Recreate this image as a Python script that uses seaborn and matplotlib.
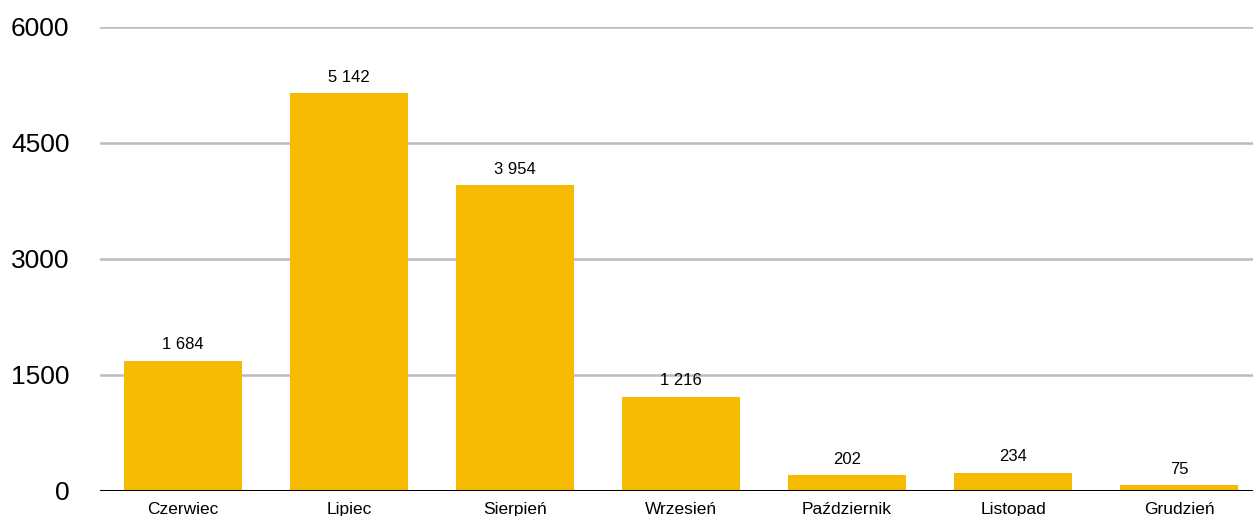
import matplotlib
matplotlib.use("Agg")
import matplotlib.pyplot as plt
import seaborn as sns
import pandas as pd

months = ["Czerwiec", "Lipiec", "Sierpień", "Wrzesień", "Październik", "Listopad", "Grudzień"]
counts = [1684, 5142, 3954, 1216, 202, 234, 75]
yticks = [0, 1500, 3000, 4500, 6000]

df = pd.DataFrame({"miesiac": months, "liczba": counts})

sns.set_style("white")
plt.rcParams["font.family"] = ["Liberation Sans", "DejaVu Sans"]
plt.rcParams["text.color"] = "black"
plt.rcParams["xtick.color"] = "black"
plt.rcParams["ytick.color"] = "black"

fig = plt.figure(figsize=(12.53, 5.16), dpi=100)
ax = fig.add_axes([100 / 1253, 25 / 516, 1162 / 1253, 464 / 516])

sns.barplot(data=df, x="miesiac", y="liczba", color="#F6BA00", width=0.71,
            saturation=1, linewidth=0, ax=ax, zorder=3)

ax.set_ylim(0, 6000)
ax.set_xlim(-0.5, len(months) - 0.5)
ax.set_yticks(yticks)
ax.set_yticklabels([str(t) for t in yticks], fontsize=19)
ax.tick_params(axis="y", length=0, pad=22)
ax.tick_params(axis="x", length=0, pad=8, labelsize=12.5)
ax.set_xlabel("")
ax.set_ylabel("")

for t in yticks[1:]:
    ax.axhline(t, color="#BBBBBB", linewidth=1.8, zorder=1)
ax.axhline(0, color="black", linewidth=2.2, zorder=4)

for sp in ax.spines.values():
    sp.set_visible(False)

for i, v in enumerate(counts):
    label = f"{v:,}".replace(",", " ")
    ax.text(i, v + 110, label, ha="center", va="bottom", fontsize=12, color="black")

fig.savefig("out.png", dpi=100)
